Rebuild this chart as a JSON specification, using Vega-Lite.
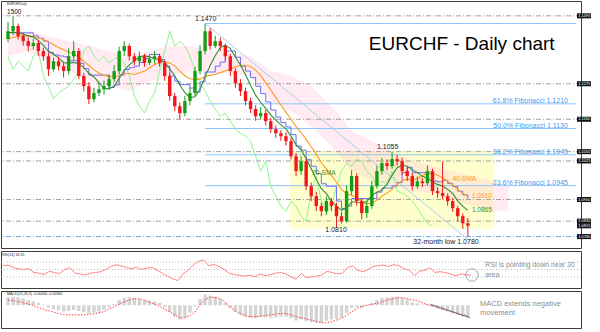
{
  "$schema": "https://vega.github.io/schema/vega-lite/v6.json",
  "padding": 0,
  "background": "white",
  "config": {
    "view": {"stroke": "#3c3c3c", "strokeWidth": 1},
    "text": {"font": "Liberation Sans"},
    "axis": {"labelFont": "Liberation Sans"}
  },
  "datasets": {
    "bars": [
      {"d":"2018-10-12","o":1.1420,"h":1.1475,"l":1.1410,"c":1.1445,"s20":1.1440,"s40":1.1420,"kj":1.1440,"lag":1.1364,"rsi":60,"macd":0.0028,"sig":0.0018},
      {"d":"2018-10-17","o":1.1445,"h":1.1494,"l":1.1432,"c":1.1462,"s20":1.1442,"s40":1.1425,"kj":1.1440,"lag":1.1322,"rsi":62,"macd":0.0030,"sig":0.0016},
      {"d":"2018-10-22","o":1.1462,"h":1.1470,"l":1.1418,"c":1.1429,"s20":1.1440,"s40":1.1428,"kj":1.1440,"lag":1.1348,"rsi":55,"macd":0.0028,"sig":0.0013},
      {"d":"2018-10-27","o":1.1429,"h":1.1440,"l":1.1398,"c":1.1413,"s20":1.1435,"s40":1.1430,"kj":1.1440,"lag":1.1332,"rsi":52,"macd":0.0024,"sig":0.0009},
      {"d":"2018-11-01","o":1.1413,"h":1.1425,"l":1.1380,"c":1.1397,"s20":1.1430,"s40":1.1430,"kj":1.1440,"lag":1.1316,"rsi":50,"macd":0.0018,"sig":0.0004},
      {"d":"2018-11-06","o":1.1397,"h":1.1420,"l":1.1385,"c":1.1407,"s20":1.1426,"s40":1.1428,"kj":1.1430,"lag":1.1364,"rsi":52,"macd":0.0014,"sig":-0.0001},
      {"d":"2018-11-11","o":1.1407,"h":1.1415,"l":1.1365,"c":1.1381,"s20":1.1415,"s40":1.1424,"kj":1.1422,"lag":1.1381,"rsi":42,"macd":0.0008,"sig":-0.0008},
      {"d":"2018-11-16","o":1.1381,"h":1.1392,"l":1.1350,"c":1.1364,"s20":1.1399,"s40":1.1418,"kj":1.1413,"lag":1.1300,"rsi":40,"macd":0.0002,"sig":-0.0014},
      {"d":"2018-11-21","o":1.1364,"h":1.1375,"l":1.1300,"c":1.1322,"s20":1.1381,"s40":1.1410,"kj":1.1376,"lag":1.1267,"rsi":36,"macd":-0.0008,"sig":-0.0019},
      {"d":"2018-11-26","o":1.1322,"h":1.1360,"l":1.1315,"c":1.1348,"s20":1.1370,"s40":1.1402,"kj":1.1368,"lag":1.1225,"rsi":45,"macd":-0.0014,"sig":-0.0024},
      {"d":"2018-12-01","o":1.1348,"h":1.1362,"l":1.1318,"c":1.1332,"s20":1.1359,"s40":1.1392,"kj":1.1365,"lag":1.1245,"rsi":42,"macd":-0.0018,"sig":-0.0029},
      {"d":"2018-12-06","o":1.1332,"h":1.1345,"l":1.1295,"c":1.1316,"s20":1.1344,"s40":1.1385,"kj":1.1362,"lag":1.1257,"rsi":39,"macd":-0.0022,"sig":-0.0033},
      {"d":"2018-12-11","o":1.1316,"h":1.1390,"l":1.1305,"c":1.1364,"s20":1.1341,"s40":1.1378,"kj":1.1349,"lag":1.1267,"rsi":50,"macd":-0.0020,"sig":-0.0034},
      {"d":"2018-12-16","o":1.1364,"h":1.1413,"l":1.1350,"c":1.1381,"s20":1.1344,"s40":1.1371,"kj":1.1349,"lag":1.1290,"rsi":55,"macd":-0.0016,"sig":-0.0034},
      {"d":"2018-12-21","o":1.1381,"h":1.1390,"l":1.1290,"c":1.1300,"s20":1.1340,"s40":1.1361,"kj":1.1341,"lag":1.1316,"rsi":40,"macd":-0.0020,"sig":-0.0034},
      {"d":"2018-12-26","o":1.1300,"h":1.1310,"l":1.1250,"c":1.1267,"s20":1.1327,"s40":1.1348,"kj":1.1324,"lag":1.1381,"rsi":38,"macd":-0.0024,"sig":-0.0034},
      {"d":"2018-12-31","o":1.1267,"h":1.1280,"l":1.1209,"c":1.1225,"s20":1.1309,"s40":1.1334,"kj":1.1303,"lag":1.1397,"rsi":35,"macd":-0.0028,"sig":-0.0032},
      {"d":"2019-01-05","o":1.1225,"h":1.1262,"l":1.1215,"c":1.1245,"s20":1.1297,"s40":1.1320,"kj":1.1303,"lag":1.1364,"rsi":40,"macd":-0.0026,"sig":-0.0030},
      {"d":"2019-01-10","o":1.1245,"h":1.1275,"l":1.1235,"c":1.1257,"s20":1.1279,"s40":1.1310,"kj":1.1303,"lag":1.1348,"rsi":42,"macd":-0.0022,"sig":-0.0026},
      {"d":"2019-01-15","o":1.1257,"h":1.1285,"l":1.1240,"c":1.1267,"s20":1.1260,"s40":1.1302,"kj":1.1303,"lag":1.1364,"rsi":44,"macd":-0.0016,"sig":-0.0023},
      {"d":"2019-01-20","o":1.1267,"h":1.1305,"l":1.1255,"c":1.1290,"s20":1.1259,"s40":1.1299,"kj":1.1263,"lag":1.1342,"rsi":50,"macd":-0.0008,"sig":-0.0014},
      {"d":"2019-01-25","o":1.1290,"h":1.1335,"l":1.1280,"c":1.1316,"s20":1.1267,"s40":1.1297,"kj":1.1271,"lag":1.1355,"rsi":58,"macd":0.0004,"sig":-0.0005},
      {"d":"2019-01-30","o":1.1316,"h":1.1395,"l":1.1305,"c":1.1381,"s20":1.1293,"s40":1.1301,"kj":1.1303,"lag":1.1364,"rsi":63,"macd":0.0018,"sig":0.0004},
      {"d":"2019-02-04","o":1.1381,"h":1.1413,"l":1.1365,"c":1.1397,"s20":1.1318,"s40":1.1308,"kj":1.1321,"lag":1.1342,"rsi":60,"macd":0.0026,"sig":0.0012},
      {"d":"2019-02-09","o":1.1397,"h":1.1405,"l":1.1350,"c":1.1364,"s20":1.1336,"s40":1.1308,"kj":1.1327,"lag":1.1300,"rsi":55,"macd":0.0028,"sig":0.0018},
      {"d":"2019-02-14","o":1.1364,"h":1.1375,"l":1.1335,"c":1.1348,"s20":1.1349,"s40":1.1305,"kj":1.1332,"lag":1.1235,"rsi":52,"macd":0.0026,"sig":0.0023},
      {"d":"2019-02-19","o":1.1348,"h":1.1380,"l":1.1338,"c":1.1364,"s20":1.1362,"s40":1.1310,"kj":1.1344,"lag":1.1202,"rsi":56,"macd":0.0022,"sig":0.0023},
      {"d":"2019-02-24","o":1.1364,"h":1.1372,"l":1.1330,"c":1.1342,"s20":1.1366,"s40":1.1316,"kj":1.1357,"lag":1.1180,"rsi":50,"macd":0.0018,"sig":0.0017},
      {"d":"2019-03-01","o":1.1342,"h":1.1370,"l":1.1335,"c":1.1355,"s20":1.1362,"s40":1.1327,"kj":1.1370,"lag":1.1219,"rsi":54,"macd":0.0016,"sig":0.0010},
      {"d":"2019-03-06","o":1.1355,"h":1.1381,"l":1.1340,"c":1.1364,"s20":1.1356,"s40":1.1337,"kj":1.1370,"lag":1.1245,"rsi":55,"macd":0.0014,"sig":0.0005},
      {"d":"2019-03-11","o":1.1364,"h":1.1372,"l":1.1330,"c":1.1342,"s20":1.1353,"s40":1.1344,"kj":1.1353,"lag":1.1316,"rsi":48,"macd":0.0008,"sig":-0.0004},
      {"d":"2019-03-16","o":1.1342,"h":1.1350,"l":1.1285,"c":1.1300,"s20":1.1345,"s40":1.1347,"kj":1.1332,"lag":1.1381,"rsi":40,"macd":-0.0006,"sig":-0.0014},
      {"d":"2019-03-21","o":1.1300,"h":1.1310,"l":1.1220,"c":1.1235,"s20":1.1323,"s40":1.1342,"kj":1.1300,"lag":1.1445,"rsi":32,"macd":-0.0024,"sig":-0.0023},
      {"d":"2019-03-26","o":1.1235,"h":1.1245,"l":1.1186,"c":1.1202,"s20":1.1300,"s40":1.1333,"kj":1.1283,"lag":1.1397,"rsi":25,"macd":-0.0040,"sig":-0.0034},
      {"d":"2019-03-31","o":1.1202,"h":1.1215,"l":1.1160,"c":1.1180,"s20":1.1271,"s40":1.1316,"kj":1.1272,"lag":1.1413,"rsi":20,"macd":-0.0050,"sig":-0.0045},
      {"d":"2019-04-05","o":1.1180,"h":1.1235,"l":1.1170,"c":1.1219,"s20":1.1246,"s40":1.1301,"kj":1.1272,"lag":1.1397,"rsi":38,"macd":-0.0042,"sig":-0.0044},
      {"d":"2019-04-10","o":1.1219,"h":1.1262,"l":1.1205,"c":1.1245,"s20":1.1230,"s40":1.1291,"kj":1.1261,"lag":1.1364,"rsi":48,"macd":-0.0026,"sig":-0.0036},
      {"d":"2019-04-15","o":1.1245,"h":1.1330,"l":1.1235,"c":1.1316,"s20":1.1233,"s40":1.1289,"kj":1.1248,"lag":1.1316,"rsi":62,"macd":-0.0004,"sig":-0.0024},
      {"d":"2019-04-20","o":1.1316,"h":1.1400,"l":1.1305,"c":1.1381,"s20":1.1257,"s40":1.1290,"kj":1.1281,"lag":1.1277,"rsi":72,"macd":0.0022,"sig":0.0002},
      {"d":"2019-04-25","o":1.1381,"h":1.1470,"l":1.1370,"c":1.1445,"s20":1.1298,"s40":1.1299,"kj":1.1313,"lag":1.1251,"rsi":76,"macd":0.0038,"sig":0.0020},
      {"d":"2019-04-30","o":1.1445,"h":1.1455,"l":1.1385,"c":1.1397,"s20":1.1334,"s40":1.1302,"kj":1.1313,"lag":1.1219,"rsi":60,"macd":0.0034,"sig":0.0029},
      {"d":"2019-05-05","o":1.1397,"h":1.1430,"l":1.1390,"c":1.1413,"s20":1.1366,"s40":1.1306,"kj":1.1332,"lag":1.1193,"rsi":64,"macd":0.0030,"sig":0.0027},
      {"d":"2019-05-10","o":1.1413,"h":1.1425,"l":1.1380,"c":1.1397,"s20":1.1392,"s40":1.1311,"kj":1.1345,"lag":1.1170,"rsi":58,"macd":0.0022,"sig":0.0024},
      {"d":"2019-05-15","o":1.1397,"h":1.1405,"l":1.1350,"c":1.1364,"s20":1.1400,"s40":1.1316,"kj":1.1381,"lag":1.1180,"rsi":50,"macd":0.0008,"sig":0.0010},
      {"d":"2019-05-20","o":1.1364,"h":1.1372,"l":1.1300,"c":1.1316,"s20":1.1389,"s40":1.1323,"kj":1.1381,"lag":1.1154,"rsi":40,"macd":-0.0010,"sig":-0.0008},
      {"d":"2019-05-25","o":1.1316,"h":1.1325,"l":1.1262,"c":1.1277,"s20":1.1361,"s40":1.1329,"kj":1.1361,"lag":1.1128,"rsi":36,"macd":-0.0024,"sig":-0.0020},
      {"d":"2019-05-30","o":1.1277,"h":1.1290,"l":1.1235,"c":1.1251,"s20":1.1336,"s40":1.1335,"kj":1.1332,"lag":1.1115,"rsi":34,"macd":-0.0034,"sig":-0.0030},
      {"d":"2019-06-04","o":1.1251,"h":1.1262,"l":1.1205,"c":1.1219,"s20":1.1304,"s40":1.1335,"kj":1.1316,"lag":1.1105,"rsi":32,"macd":-0.0040,"sig":-0.0037},
      {"d":"2019-06-09","o":1.1219,"h":1.1230,"l":1.1180,"c":1.1193,"s20":1.1270,"s40":1.1331,"kj":1.1295,"lag":1.1089,"rsi":35,"macd":-0.0044,"sig":-0.0041},
      {"d":"2019-06-14","o":1.1193,"h":1.1205,"l":1.1155,"c":1.1170,"s20":1.1238,"s40":1.1319,"kj":1.1267,"lag":1.1040,"rsi":30,"macd":-0.0046,"sig":-0.0040},
      {"d":"2019-06-19","o":1.1170,"h":1.1200,"l":1.1160,"c":1.1180,"s20":1.1215,"s40":1.1302,"kj":1.1243,"lag":1.0992,"rsi":38,"macd":-0.0042,"sig":-0.0038},
      {"d":"2019-06-24","o":1.1180,"h":1.1190,"l":1.1140,"c":1.1154,"s20":1.1195,"s40":1.1278,"kj":1.1216,"lag":1.1024,"rsi":33,"macd":-0.0042,"sig":-0.0036},
      {"d":"2019-06-29","o":1.1154,"h":1.1165,"l":1.1115,"c":1.1128,"s20":1.1174,"s40":1.1255,"kj":1.1190,"lag":1.0943,"rsi":36,"macd":-0.0044,"sig":-0.0033},
      {"d":"2019-07-04","o":1.1128,"h":1.1140,"l":1.1100,"c":1.1115,"s20":1.1157,"s40":1.1230,"kj":1.1167,"lag":1.0911,"rsi":40,"macd":-0.0042,"sig":-0.0031},
      {"d":"2019-07-09","o":1.1115,"h":1.1125,"l":1.1090,"c":1.1105,"s20":1.1142,"s40":1.1206,"kj":1.1149,"lag":1.0879,"rsi":42,"macd":-0.0040,"sig":-0.0029},
      {"d":"2019-07-14","o":1.1105,"h":1.1118,"l":1.1075,"c":1.1089,"s20":1.1129,"s40":1.1183,"kj":1.1135,"lag":1.0862,"rsi":38,"macd":-0.0040,"sig":-0.0029},
      {"d":"2019-07-19","o":1.1089,"h":1.1100,"l":1.1030,"c":1.1040,"s20":1.1105,"s40":1.1160,"kj":1.1110,"lag":1.0895,"rsi":30,"macd":-0.0046,"sig":-0.0034},
      {"d":"2019-07-24","o":1.1040,"h":1.1050,"l":1.0975,"c":1.0992,"s20":1.1078,"s40":1.1136,"kj":1.1073,"lag":1.0879,"rsi":24,"macd":-0.0054,"sig":-0.0040},
      {"d":"2019-07-29","o":1.0992,"h":1.1040,"l":1.0980,"c":1.1024,"s20":1.1061,"s40":1.1117,"kj":1.1060,"lag":1.0846,"rsi":39,"macd":-0.0050,"sig":-0.0044},
      {"d":"2019-08-03","o":1.1024,"h":1.1030,"l":1.0930,"c":1.0943,"s20":1.1032,"s40":1.1095,"kj":1.1029,"lag":1.0830,"rsi":28,"macd":-0.0056,"sig":-0.0048},
      {"d":"2019-08-08","o":1.0943,"h":1.0955,"l":1.0895,"c":1.0911,"s20":1.1000,"s40":1.1071,"kj":1.1008,"lag":1.0927,"rsi":30,"macd":-0.0060,"sig":-0.0052},
      {"d":"2019-08-13","o":1.0911,"h":1.0925,"l":1.0862,"c":1.0879,"s20":1.0965,"s40":1.1047,"kj":1.0984,"lag":1.0976,"rsi":32,"macd":-0.0062,"sig":-0.0057},
      {"d":"2019-08-18","o":1.0879,"h":1.0890,"l":1.0846,"c":1.0862,"s20":1.0935,"s40":1.1020,"kj":1.0951,"lag":1.0895,"rsi":35,"macd":-0.0062,"sig":-0.0061},
      {"d":"2019-08-23","o":1.0862,"h":1.0910,"l":1.0850,"c":1.0895,"s20":1.0919,"s40":1.0999,"kj":1.0943,"lag":1.0856,"rsi":45,"macd":-0.0054,"sig":-0.0062},
      {"d":"2019-08-28","o":1.0895,"h":1.0905,"l":1.0862,"c":1.0879,"s20":1.0895,"s40":1.0978,"kj":1.0943,"lag":1.0879,"rsi":42,"macd":-0.0050,"sig":-0.0058},
      {"d":"2019-09-02","o":1.0879,"h":1.0890,"l":1.0810,"c":1.0846,"s20":1.0879,"s40":1.0956,"kj":1.0895,"lag":1.0943,"rsi":38,"macd":-0.0048,"sig":-0.0052},
      {"d":"2019-09-07","o":1.0846,"h":1.0860,"l":1.0822,"c":1.0830,"s20":1.0865,"s40":1.0933,"kj":1.0871,"lag":1.0992,"rsi":40,"macd":-0.0044,"sig":-0.0046},
      {"d":"2019-09-12","o":1.0830,"h":1.0945,"l":1.0825,"c":1.0927,"s20":1.0873,"s40":1.0919,"kj":1.0879,"lag":1.1018,"rsi":55,"macd":-0.0028,"sig":-0.0036},
      {"d":"2019-09-17","o":1.0927,"h":1.0995,"l":1.0915,"c":1.0976,"s20":1.0892,"s40":1.0914,"kj":1.0903,"lag":1.1008,"rsi":60,"macd":-0.0010,"sig":-0.0024},
      {"d":"2019-09-22","o":1.0976,"h":1.0985,"l":1.0880,"c":1.0895,"s20":1.0892,"s40":1.0906,"kj":1.0903,"lag":1.1031,"rsi":48,"macd":-0.0006,"sig":-0.0011},
      {"d":"2019-09-27","o":1.0895,"h":1.0905,"l":1.0836,"c":1.0856,"s20":1.0888,"s40":1.0892,"kj":1.0903,"lag":1.1024,"rsi":44,"macd":-0.0008,"sig":-0.0005},
      {"d":"2019-10-02","o":1.0856,"h":1.0895,"l":1.0840,"c":1.0879,"s20":1.0894,"s40":1.0886,"kj":1.0903,"lag":1.0992,"rsi":50,"macd":-0.0002,"sig":0.0000},
      {"d":"2019-10-07","o":1.0879,"h":1.0960,"l":1.0870,"c":1.0943,"s20":1.0913,"s40":1.0889,"kj":1.0903,"lag":1.0976,"rsi":58,"macd":0.0008,"sig":0.0003},
      {"d":"2019-10-12","o":1.0943,"h":1.1010,"l":1.0935,"c":1.0992,"s20":1.0924,"s40":1.0898,"kj":1.0924,"lag":1.0943,"rsi":60,"macd":0.0018,"sig":0.0007},
      {"d":"2019-10-17","o":1.0992,"h":1.1035,"l":1.0980,"c":1.1018,"s20":1.0931,"s40":1.0911,"kj":1.0937,"lag":1.0959,"rsi":62,"macd":0.0026,"sig":0.0012},
      {"d":"2019-10-22","o":1.1018,"h":1.1030,"l":1.0995,"c":1.1008,"s20":1.0949,"s40":1.0921,"kj":1.0937,"lag":1.0953,"rsi":58,"macd":0.0028,"sig":0.0018},
      {"d":"2019-10-27","o":1.1008,"h":1.1055,"l":1.1000,"c":1.1031,"s20":1.0979,"s40":1.0933,"kj":1.0944,"lag":1.0992,"rsi":63,"macd":0.0030,"sig":0.0022},
      {"d":"2019-11-01","o":1.1031,"h":1.1045,"l":1.1010,"c":1.1024,"s20":1.1003,"s40":1.0948,"kj":1.0955,"lag":1.0927,"rsi":60,"macd":0.0030,"sig":0.0026},
      {"d":"2019-11-06","o":1.1024,"h":1.1035,"l":1.0980,"c":1.0992,"s20":1.1011,"s40":1.0962,"kj":1.0987,"lag":1.0921,"rsi":52,"macd":0.0026,"sig":0.0026},
      {"d":"2019-11-11","o":1.0992,"h":1.1005,"l":1.0960,"c":1.0976,"s20":1.1008,"s40":1.0966,"kj":1.1004,"lag":1.0911,"rsi":48,"macd":0.0020,"sig":0.0023},
      {"d":"2019-11-16","o":1.0976,"h":1.0985,"l":1.0930,"c":1.0943,"s20":1.0996,"s40":1.0963,"kj":1.0987,"lag":1.0895,"rsi":34,"macd":0.0010,"sig":0.0019},
      {"d":"2019-11-21","o":1.0943,"h":1.0975,"l":1.0935,"c":1.0959,"s20":1.0988,"s40":1.0968,"kj":1.0987,"lag":1.0872,"rsi":45,"macd":0.0006,"sig":0.0015},
      {"d":"2019-11-26","o":1.0959,"h":1.0970,"l":1.0940,"c":1.0953,"s20":1.0975,"s40":1.0977,"kj":1.0987,"lag":1.0846,"rsi":48,"macd":0.0002,"sig":0.0008},
      {"d":"2019-12-01","o":1.0953,"h":1.1010,"l":1.0945,"c":1.0992,"s20":1.0969,"s40":1.0986,"kj":1.0984,"lag":1.0823,"rsi":55,"macd":0.0004,"sig":0.0002},
      {"d":"2019-12-06","o":1.0992,"h":1.1000,"l":1.0915,"c":1.0927,"s20":1.0958,"s40":1.0985,"kj":1.0960,"lag":1.0815,"rsi":42,"macd":-0.0006,"sig":-0.0002},
      {"d":"2019-12-11","o":1.0927,"h":1.0940,"l":1.0905,"c":1.0921,"s20":1.0949,"s40":1.0979,"kj":1.0957,"rsi":44,"macd":-0.0012,"sig":-0.0008},
      {"d":"2019-12-16","o":1.0921,"h":1.1024,"l":1.0900,"c":1.0911,"s20":1.0944,"s40":1.0970,"kj":1.0962,"rsi":42,"macd":-0.0016,"sig":-0.0014},
      {"d":"2019-12-21","o":1.0911,"h":1.0920,"l":1.0880,"c":1.0895,"s20":1.0933,"s40":1.0960,"kj":1.0952,"rsi":38,"macd":-0.0022,"sig":-0.0018},
      {"d":"2019-12-26","o":1.0895,"h":1.0905,"l":1.0860,"c":1.0872,"s20":1.0920,"s40":1.0947,"kj":1.0942,"rsi":33,"macd":-0.0028,"sig":-0.0024},
      {"d":"2019-12-31","o":1.0872,"h":1.0880,"l":1.0830,"c":1.0846,"s20":1.0895,"s40":1.0932,"kj":1.0927,"rsi":38,"macd":-0.0034,"sig":-0.0030},
      {"d":"2020-01-05","o":1.0846,"h":1.0855,"l":1.0805,"c":1.0823,"s20":1.0878,"s40":1.0920,"kj":1.0915,"rsi":36,"macd":-0.0040,"sig":-0.0034},
      {"d":"2020-01-10","o":1.0823,"h":1.0840,"l":1.0780,"c":1.0815,"s20":1.0865,"s40":1.0910,"kj":1.0902,"rsi":34.35,"macd":-0.0044,"sig":-0.0036}
    ],
    "cloud": [
      {"d":"2018-10-12","top":1.1445,"bot":1.1364},
      {"d":"2018-11-01","top":1.1445,"bot":1.1381},
      {"d":"2018-11-21","top":1.1429,"bot":1.1348},
      {"d":"2018-12-11","top":1.1413,"bot":1.1316},
      {"d":"2018-12-31","top":1.1397,"bot":1.1283},
      {"d":"2019-01-20","top":1.1381,"bot":1.1267},
      {"d":"2019-02-09","top":1.1364,"bot":1.1251},
      {"d":"2019-03-01","top":1.1381,"bot":1.1283},
      {"d":"2019-03-21","top":1.1397,"bot":1.1300},
      {"d":"2019-04-10","top":1.1397,"bot":1.1316},
      {"d":"2019-04-30","top":1.1381,"bot":1.1309},
      {"d":"2019-05-20","top":1.1374,"bot":1.1309},
      {"d":"2019-06-09","top":1.1364,"bot":1.1300},
      {"d":"2019-06-29","top":1.1316,"bot":1.1219},
      {"d":"2019-07-19","top":1.1300,"bot":1.1186},
      {"d":"2019-08-08","top":1.1267,"bot":1.1138},
      {"d":"2019-08-28","top":1.1202,"bot":1.1073},
      {"d":"2019-09-17","top":1.1122,"bot":1.0992},
      {"d":"2019-10-07","top":1.1089,"bot":1.0959},
      {"d":"2019-10-27","top":1.1057,"bot":1.0943},
      {"d":"2019-11-16","top":1.1024,"bot":1.0927},
      {"d":"2019-12-06","top":1.1008,"bot":1.0921},
      {"d":"2019-12-26","top":1.0992,"bot":1.0901},
      {"d":"2020-01-15","top":1.0976,"bot":1.0879},
      {"d":"2020-02-04","top":1.0959,"bot":1.0862},
      {"d":"2020-02-19","top":1.0943,"bot":1.0862}
    ]
  },
  "spacing": 1,
  "resolve": {"scale": {"x": "independent", "y": "independent"}},
  "vconcat": [
    {
      "width": 580,
      "height": 247,
      "layer": [
        {
          "data": {"values": [{"d": "2019-07-18", "d2": "2020-02-05", "p": 1.1057, "p2": 1.0806}]},
          "mark": {"type": "rect", "color": "#ffffc4", "opacity": 0.85},
          "encoding": {
            "x": {"field": "d", "type": "temporal", "scale": {"domain": [{"year": 2018, "month": 10, "date": 10}, {"year": 2020, "month": 4, "date": 26}]}, "axis": null},
            "x2": {"field": "d2"},
            "y": {"field": "p", "type": "quantitative", "scale": {"domain": [1.0743, 1.1543], "nice": false, "zero": false}, "axis": null},
            "y2": {"field": "p2"}
          }
        },
        {
          "data": {"name": "cloud"},
          "mark": {"type": "area", "color": "#ffc2d4", "opacity": 0.32},
          "encoding": {
            "x": {"field": "d", "type": "temporal", "scale": {"domain": [{"year": 2018, "month": 10, "date": 10}, {"year": 2020, "month": 4, "date": 26}]}, "axis": null},
            "y": {"field": "top", "type": "quantitative", "scale": {"domain": [1.0743, 1.1543], "nice": false, "zero": false}, "axis": null},
            "y2": {"field": "bot"}
          }
        },
        {
          "data": {"values": [{"p": 1.1495}, {"p": 1.1275}, {"p": 1.1160}, {"p": 1.1055}, {"p": 1.1025}, {"p": 1.0900}, {"p": 1.0830}]},
          "mark": {"type": "rule", "color": "#8a8a8a", "strokeWidth": 0.8, "strokeDash": [5, 2, 1, 2]},
          "encoding": {
            "y": {"field": "p", "type": "quantitative", "scale": {"domain": [1.0743, 1.1543], "nice": false, "zero": false}, "axis": null}
          }
        },
        {
          "data": {"values": [{"p": 1.0780}]},
          "mark": {"type": "rule", "color": "#5b9fe0", "strokeWidth": 0.9, "strokeDash": [5, 2, 1, 2]},
          "encoding": {
            "y": {"field": "p", "type": "quantitative", "scale": {"domain": [1.0743, 1.1543], "nice": false, "zero": false}, "axis": null}
          }
        },
        {
          "data": {"values": [
            {"d": "2019-04-25", "d2": "2020-04-26", "p": 1.1470},
            {"d": "2019-04-25", "d2": "2020-04-26", "p": 1.1210},
            {"d": "2019-04-25", "d2": "2020-04-26", "p": 1.1130},
            {"d": "2019-04-25", "d2": "2020-04-26", "p": 1.1045},
            {"d": "2019-04-25", "d2": "2020-04-26", "p": 1.0945}
          ]},
          "mark": {"type": "rule", "color": "#8ec5fa", "strokeWidth": 1},
          "encoding": {
            "x": {"field": "d", "type": "temporal", "scale": {"domain": [{"year": 2018, "month": 10, "date": 10}, {"year": 2020, "month": 4, "date": 26}]}, "axis": null},
            "x2": {"field": "d2"},
            "y": {"field": "p", "type": "quantitative", "scale": {"domain": [1.0743, 1.1543], "nice": false, "zero": false}, "axis": null}
          }
        },
        {
          "data": {"values": [{"d": "2019-04-25", "d2": "2020-01-12", "p": 1.1470, "p2": 1.0765}]},
          "mark": {"type": "rule", "color": "#a9cdf0", "strokeWidth": 1},
          "encoding": {
            "x": {"field": "d", "type": "temporal", "scale": {"domain": [{"year": 2018, "month": 10, "date": 10}, {"year": 2020, "month": 4, "date": 26}]}, "axis": null},
            "x2": {"field": "d2"},
            "y": {"field": "p", "type": "quantitative", "scale": {"domain": [1.0743, 1.1543], "nice": false, "zero": false}, "axis": null},
            "y2": {"field": "p2"}
          }
        },
        {
          "data": {"name": "bars"},
          "mark": {"type": "line", "color": "#86f086", "strokeWidth": 0.9},
          "encoding": {
            "x": {"field": "d", "type": "temporal", "scale": {"domain": [{"year": 2018, "month": 10, "date": 10}, {"year": 2020, "month": 4, "date": 26}]}, "axis": null},
            "y": {"field": "lag", "type": "quantitative", "scale": {"domain": [1.0743, 1.1543], "nice": false, "zero": false}, "axis": null}
          }
        },
        {
          "data": {"name": "bars"},
          "mark": {"type": "line", "color": "#6c6cf5", "strokeWidth": 1, "interpolate": "step-after"},
          "encoding": {
            "x": {"field": "d", "type": "temporal", "scale": {"domain": [{"year": 2018, "month": 10, "date": 10}, {"year": 2020, "month": 4, "date": 26}]}, "axis": null},
            "y": {"field": "kj", "type": "quantitative", "scale": {"domain": [1.0743, 1.1543], "nice": false, "zero": false}, "axis": null}
          }
        },
        {
          "data": {"name": "bars"},
          "mark": {"type": "line", "color": "#ff9a1f", "strokeWidth": 1.1},
          "encoding": {
            "x": {"field": "d", "type": "temporal", "scale": {"domain": [{"year": 2018, "month": 10, "date": 10}, {"year": 2020, "month": 4, "date": 26}]}, "axis": null},
            "y": {"field": "s40", "type": "quantitative", "scale": {"domain": [1.0743, 1.1543], "nice": false, "zero": false}, "axis": null}
          }
        },
        {
          "data": {"name": "bars"},
          "mark": {"type": "line", "color": "#2f8f2f", "strokeWidth": 1.1},
          "encoding": {
            "x": {"field": "d", "type": "temporal", "scale": {"domain": [{"year": 2018, "month": 10, "date": 10}, {"year": 2020, "month": 4, "date": 26}]}, "axis": null},
            "y": {"field": "s20", "type": "quantitative", "scale": {"domain": [1.0743, 1.1543], "nice": false, "zero": false}, "axis": null}
          }
        },
        {
          "data": {"name": "bars"},
          "mark": {"type": "rule", "strokeWidth": 1},
          "encoding": {
            "x": {"field": "d", "type": "temporal", "scale": {"domain": [{"year": 2018, "month": 10, "date": 10}, {"year": 2020, "month": 4, "date": 26}]}, "axis": null},
            "y": {"field": "l", "type": "quantitative", "scale": {"domain": [1.0743, 1.1543], "nice": false, "zero": false}, "axis": null},
            "y2": {"field": "h"},
            "color": {"condition": {"test": "datum.c >= datum.o", "value": "#139e13"}, "value": "#f01818"}
          }
        },
        {
          "data": {"name": "bars"},
          "mark": {"type": "bar", "width": 3.4},
          "encoding": {
            "x": {"field": "d", "type": "temporal", "scale": {"domain": [{"year": 2018, "month": 10, "date": 10}, {"year": 2020, "month": 4, "date": 26}]}, "axis": null},
            "y": {
              "field": "o", "type": "quantitative",
              "scale": {"domain": [1.0743, 1.1543], "nice": false, "zero": false},
              "axis": {
                "orient": "right", "title": null, "grid": false, "format": ".4f",
                "values": [1.0748, 1.0785, 1.0822, 1.0859, 1.0896, 1.0933, 1.0970, 1.1007, 1.1044, 1.1081, 1.1118, 1.1155, 1.1192, 1.1229, 1.1266, 1.1303, 1.1340, 1.1377, 1.1414, 1.1451, 1.1488, 1.1525],
                "labelFontSize": 4, "labelColor": "#333", "labelPadding": 1, "labelFlush": false, "labelOverlap": false,
                "tickSize": 2, "tickColor": "#777", "domainColor": "#999"
              }
            },
            "y2": {"field": "c"},
            "color": {"condition": {"test": "datum.c >= datum.o", "value": "#139e13"}, "value": "#f01818"}
          }
        },
        {
          "data": {"values": [
            {"d": "2019-04-15", "p": 1.1484, "t": "1.1470"},
            {"d": "2019-10-12", "p": 1.1070, "t": "1.1055"},
            {"d": "2019-08-22", "p": 1.0801, "t": "1.0810"},
            {"d": "2019-11-17", "p": 1.0762, "t": "32-month low 1.0780"}
          ]},
          "mark": {"type": "text", "fontSize": 7, "color": "#222", "align": "left", "baseline": "middle"},
          "encoding": {
            "x": {"field": "d", "type": "temporal", "scale": {"domain": [{"year": 2018, "month": 10, "date": 10}, {"year": 2020, "month": 4, "date": 26}]}, "axis": null},
            "y": {"field": "p", "type": "quantitative", "scale": {"domain": [1.0743, 1.1543], "nice": false, "zero": false}, "axis": null},
            "text": {"field": "t"}
          }
        },
        {
          "data": {"values": [
            {"d": "2020-04-18", "p": 1.1210, "t": "61.8% Fibonacci 1.1210"},
            {"d": "2020-04-18", "p": 1.1130, "t": "50.0% Fibonacci 1.1130"},
            {"d": "2020-04-18", "p": 1.1045, "t": "38.2% Fibonacci 1.1045"},
            {"d": "2020-04-18", "p": 1.0945, "t": "23.6% Fibonacci 1.0945"}
          ]},
          "mark": {"type": "text", "fontSize": 7, "color": "#3b9cf0", "align": "right", "baseline": "alphabetic", "dy": -1},
          "encoding": {
            "x": {"field": "d", "type": "temporal", "scale": {"domain": [{"year": 2018, "month": 10, "date": 10}, {"year": 2020, "month": 4, "date": 26}]}, "axis": null},
            "y": {"field": "p", "type": "quantitative", "scale": {"domain": [1.0743, 1.1543], "nice": false, "zero": false}, "axis": null},
            "text": {"field": "t"}
          }
        },
        {
          "data": {"values": [
            {"d": "2019-08-09", "p": 1.0985, "t": "20-SMA"},
            {"d": "2020-01-14", "p": 1.0865, "t": "1.0865"}
          ]},
          "mark": {"type": "text", "fontSize": 6.5, "color": "#2f8f2f", "align": "left", "baseline": "middle"},
          "encoding": {
            "x": {"field": "d", "type": "temporal", "scale": {"domain": [{"year": 2018, "month": 10, "date": 10}, {"year": 2020, "month": 4, "date": 26}]}, "axis": null},
            "y": {"field": "p", "type": "quantitative", "scale": {"domain": [1.0743, 1.1543], "nice": false, "zero": false}, "axis": null},
            "text": {"field": "t"}
          }
        },
        {
          "data": {"values": [
            {"d": "2019-12-26", "p": 1.0966, "t": "40-SMA"},
            {"d": "2020-01-14", "p": 1.0910, "t": "1.0910"}
          ]},
          "mark": {"type": "text", "fontSize": 6.5, "color": "#ff9a1f", "align": "left", "baseline": "middle"},
          "encoding": {
            "x": {"field": "d", "type": "temporal", "scale": {"domain": [{"year": 2018, "month": 10, "date": 10}, {"year": 2020, "month": 4, "date": 26}]}, "axis": null},
            "y": {"field": "p", "type": "quantitative", "scale": {"domain": [1.0743, 1.1543], "nice": false, "zero": false}, "axis": null},
            "text": {"field": "t"}
          }
        },
        {
          "data": {"values": [{"d": "2019-10-04", "p": 1.1403, "t": "EURCHF - Daily chart"}]},
          "mark": {"type": "text", "fontSize": 19, "color": "#000", "align": "left", "baseline": "middle"},
          "encoding": {
            "x": {"field": "d", "type": "temporal", "scale": {"domain": [{"year": 2018, "month": 10, "date": 10}, {"year": 2020, "month": 4, "date": 26}]}, "axis": null},
            "y": {"field": "p", "type": "quantitative", "scale": {"domain": [1.0743, 1.1543], "nice": false, "zero": false}, "axis": null},
            "text": {"field": "t"}
          }
        },
        {
          "data": {"values": [{"d": "2018-10-11", "p": 1.1534, "t": "EURCHF,Daily"}]},
          "mark": {"type": "text", "fontSize": 3, "color": "#222", "align": "left", "baseline": "middle"},
          "encoding": {
            "x": {"field": "d", "type": "temporal", "scale": {"domain": [{"year": 2018, "month": 10, "date": 10}, {"year": 2020, "month": 4, "date": 26}]}, "axis": null},
            "y": {"field": "p", "type": "quantitative", "scale": {"domain": [1.0743, 1.1543], "nice": false, "zero": false}, "axis": null},
            "text": {"field": "t"}
          }
        },
        {
          "data": {"values": [{"d": "2018-10-11", "p": 1.1507, "t": "1500"}]},
          "mark": {"type": "text", "fontSize": 6.5, "color": "#111", "align": "left", "baseline": "middle"},
          "encoding": {
            "x": {"field": "d", "type": "temporal", "scale": {"domain": [{"year": 2018, "month": 10, "date": 10}, {"year": 2020, "month": 4, "date": 26}]}, "axis": null},
            "y": {"field": "p", "type": "quantitative", "scale": {"domain": [1.0743, 1.1543], "nice": false, "zero": false}, "axis": null},
            "text": {"field": "t"}
          }
        },
        {
          "data": {"values": [{"p": 1.1495}, {"p": 1.1275}, {"p": 1.1160}, {"p": 1.1055}, {"p": 1.1025}, {"p": 1.0900}, {"p": 1.0830}, {"p": 1.0815}, {"p": 1.0780}]},
          "mark": {"type": "point", "shape": "M0,-0.36H2V0.36H0Z", "size": 196, "filled": true, "color": "#111", "opacity": 1, "xOffset": 1},
          "encoding": {
            "x": {"datum": {"year": 2020, "month": 4, "date": 26}, "type": "temporal", "scale": {"domain": [{"year": 2018, "month": 10, "date": 10}, {"year": 2020, "month": 4, "date": 26}]}, "axis": null},
            "y": {"field": "p", "type": "quantitative", "scale": {"domain": [1.0743, 1.1543], "nice": false, "zero": false}, "axis": null}
          }
        },
        {
          "data": {"values": [{"p": 1.1495}, {"p": 1.1275}, {"p": 1.1160}, {"p": 1.1055}, {"p": 1.1025}, {"p": 1.0900}, {"p": 1.0830}, {"p": 1.0815}, {"p": 1.0780}]},
          "mark": {"type": "text", "fontSize": 4, "color": "#fff", "align": "left", "baseline": "middle", "dx": 2.2},
          "encoding": {
            "x": {"datum": {"year": 2020, "month": 4, "date": 26}, "type": "temporal", "scale": {"domain": [{"year": 2018, "month": 10, "date": 10}, {"year": 2020, "month": 4, "date": 26}]}, "axis": null},
            "y": {"field": "p", "type": "quantitative", "scale": {"domain": [1.0743, 1.1543], "nice": false, "zero": false}, "axis": null},
            "text": {"field": "p", "type": "quantitative", "format": ".4f"}
          }
        }
      ]
    },
    {
      "width": 580,
      "height": 37,
      "layer": [
        {
          "data": {"values": [{"v": 30}, {"v": 50}, {"v": 70}]},
          "mark": {"type": "rule", "color": "#a8a8a8", "strokeDash": [1, 2], "strokeWidth": 0.8},
          "encoding": {
            "y": {"field": "v", "type": "quantitative", "scale": {"domain": [0, 100], "nice": false, "zero": false}, "axis": null}
          }
        },
        {
          "data": {"name": "bars"},
          "mark": {"type": "line", "color": "#ff7676", "strokeWidth": 0.9},
          "encoding": {
            "x": {"field": "d", "type": "temporal", "scale": {"domain": [{"year": 2018, "month": 10, "date": 10}, {"year": 2020, "month": 4, "date": 26}]}, "axis": null},
            "y": {
              "field": "rsi", "type": "quantitative",
              "scale": {"domain": [0, 100], "nice": false, "zero": false},
              "axis": {
                "orient": "right", "title": null, "grid": false, "format": ".2f",
                "values": [0, 30, 50, 70, 100],
                "labelFontSize": 4, "labelColor": "#333", "labelPadding": 1, "labelFlush": false, "labelOverlap": false,
                "tickSize": 2, "tickColor": "#777", "domainColor": "#999"
              }
            }
          }
        },
        {
          "data": {"values": [{"d": "2018-10-11", "v": 89, "t": "RSI(14) 34.35"}]},
          "mark": {"type": "text", "fontSize": 3.6, "color": "#222", "align": "left", "baseline": "middle"},
          "encoding": {
            "x": {"field": "d", "type": "temporal", "scale": {"domain": [{"year": 2018, "month": 10, "date": 10}, {"year": 2020, "month": 4, "date": 26}]}, "axis": null},
            "y": {"field": "v", "type": "quantitative", "scale": {"domain": [0, 100], "nice": false, "zero": false}, "axis": null},
            "text": {"field": "t"}
          }
        },
        {
          "data": {"values": [{"d": "2020-01-24", "v": 72}]},
          "mark": {"type": "text", "text": ["RSI is pointing down near 30", "area"], "fontSize": 7, "lineHeight": 9.5, "color": "#8c8c8c", "align": "left", "baseline": "top"},
          "encoding": {
            "x": {"field": "d", "type": "temporal", "scale": {"domain": [{"year": 2018, "month": 10, "date": 10}, {"year": 2020, "month": 4, "date": 26}]}, "axis": null},
            "y": {"field": "v", "type": "quantitative", "scale": {"domain": [0, 100], "nice": false, "zero": false}, "axis": null}
          }
        },
        {
          "data": {"values": [{"d": "2020-01-11", "v": 35}]},
          "mark": {"type": "point", "shape": "circle", "size": 154, "filled": false, "color": "#8c8c8c", "strokeWidth": 0.8, "opacity": 1},
          "encoding": {
            "x": {"field": "d", "type": "temporal", "scale": {"domain": [{"year": 2018, "month": 10, "date": 10}, {"year": 2020, "month": 4, "date": 26}]}, "axis": null},
            "y": {"field": "v", "type": "quantitative", "scale": {"domain": [0, 100], "nice": false, "zero": false}, "axis": null}
          }
        }
      ]
    },
    {
      "width": 580,
      "height": 37,
      "layer": [
        {
          "data": {"name": "bars"},
          "mark": {"type": "bar", "width": 3.4, "color": "#d4d4d4"},
          "encoding": {
            "x": {
              "field": "d", "type": "temporal",
              "scale": {"domain": [{"year": 2018, "month": 10, "date": 10}, {"year": 2020, "month": 4, "date": 26}]},
              "axis": {
                "orient": "bottom", "title": null, "grid": false, "domain": false, "format": "%-d %b %Y",
                "values": [
                  {"year": 2018, "month": 10, "date": 12}, {"year": 2018, "month": 11, "date": 7}, {"year": 2018, "month": 11, "date": 26},
                  {"year": 2018, "month": 12, "date": 18}, {"year": 2019, "month": 1, "date": 11}, {"year": 2019, "month": 2, "date": 4},
                  {"year": 2019, "month": 2, "date": 26}, {"year": 2019, "month": 3, "date": 18}, {"year": 2019, "month": 4, "date": 9},
                  {"year": 2019, "month": 4, "date": 30}, {"year": 2019, "month": 5, "date": 22}, {"year": 2019, "month": 6, "date": 13},
                  {"year": 2019, "month": 7, "date": 5}, {"year": 2019, "month": 7, "date": 29}, {"year": 2019, "month": 8, "date": 20},
                  {"year": 2019, "month": 9, "date": 10}, {"year": 2019, "month": 10, "date": 3}, {"year": 2019, "month": 10, "date": 25},
                  {"year": 2019, "month": 11, "date": 15}, {"year": 2019, "month": 12, "date": 9}, {"year": 2020, "month": 1, "date": 2}
                ],
                "labelFontSize": 3.3, "labelColor": "#333", "labelAlign": "left", "labelPadding": 1, "labelFlush": false, "labelOverlap": false,
                "tickSize": 2, "tickColor": "#777"
              }
            },
            "y": {
              "field": "macd", "type": "quantitative",
              "scale": {"domain": [-0.008, 0.005], "nice": false, "zero": false},
              "axis": {
                "orient": "right", "title": null, "grid": false, "format": ".5f",
                "values": [0.0044, 0, -0.00779],
                "labelFontSize": 4, "labelColor": "#333", "labelPadding": 1, "labelFlush": false, "labelOverlap": false,
                "tickSize": 2, "tickColor": "#777", "domainColor": "#999"
              }
            },
            "y2": {"datum": 0}
          }
        },
        {
          "data": {"name": "bars"},
          "mark": {"type": "line", "color": "#ff3b3b", "strokeWidth": 1, "strokeDash": [1.5, 1.5]},
          "encoding": {
            "x": {"field": "d", "type": "temporal", "scale": {"domain": [{"year": 2018, "month": 10, "date": 10}, {"year": 2020, "month": 4, "date": 26}]}, "axis": null},
            "y": {"field": "sig", "type": "quantitative", "scale": {"domain": [-0.008, 0.005], "nice": false, "zero": false}, "axis": null}
          }
        },
        {
          "data": {"values": [{"d": "2019-12-04", "d2": "2020-01-12", "v": 0.00033, "v2": -0.00437}]},
          "mark": {"type": "rule", "color": "#6e6e6e", "strokeWidth": 1},
          "encoding": {
            "x": {"field": "d", "type": "temporal", "scale": {"domain": [{"year": 2018, "month": 10, "date": 10}, {"year": 2020, "month": 4, "date": 26}]}, "axis": null},
            "x2": {"field": "d2"},
            "y": {"field": "v", "type": "quantitative", "scale": {"domain": [-0.008, 0.005], "nice": false, "zero": false}, "axis": null},
            "y2": {"field": "v2"}
          }
        },
        {
          "data": {"values": [{"d": "2018-10-11", "v": 0.0039, "t": "MACD(12,26,9) -0.00440 -0.00360"}]},
          "mark": {"type": "text", "fontSize": 3.6, "color": "#222", "align": "left", "baseline": "middle"},
          "encoding": {
            "x": {"field": "d", "type": "temporal", "scale": {"domain": [{"year": 2018, "month": 10, "date": 10}, {"year": 2020, "month": 4, "date": 26}]}, "axis": null},
            "y": {"field": "v", "type": "quantitative", "scale": {"domain": [-0.008, 0.005], "nice": false, "zero": false}, "axis": null},
            "text": {"field": "t"}
          }
        },
        {
          "data": {"values": [{"d": "2020-01-22", "v": 0.0018}]},
          "mark": {"type": "text", "text": ["MACD extends negative", "movement"], "fontSize": 7.5, "lineHeight": 8.5, "color": "#8c8c8c", "align": "left", "baseline": "top"},
          "encoding": {
            "x": {"field": "d", "type": "temporal", "scale": {"domain": [{"year": 2018, "month": 10, "date": 10}, {"year": 2020, "month": 4, "date": 26}]}, "axis": null},
            "y": {"field": "v", "type": "quantitative", "scale": {"domain": [-0.008, 0.005], "nice": false, "zero": false}, "axis": null}
          }
        }
      ]
    }
  ]
}
